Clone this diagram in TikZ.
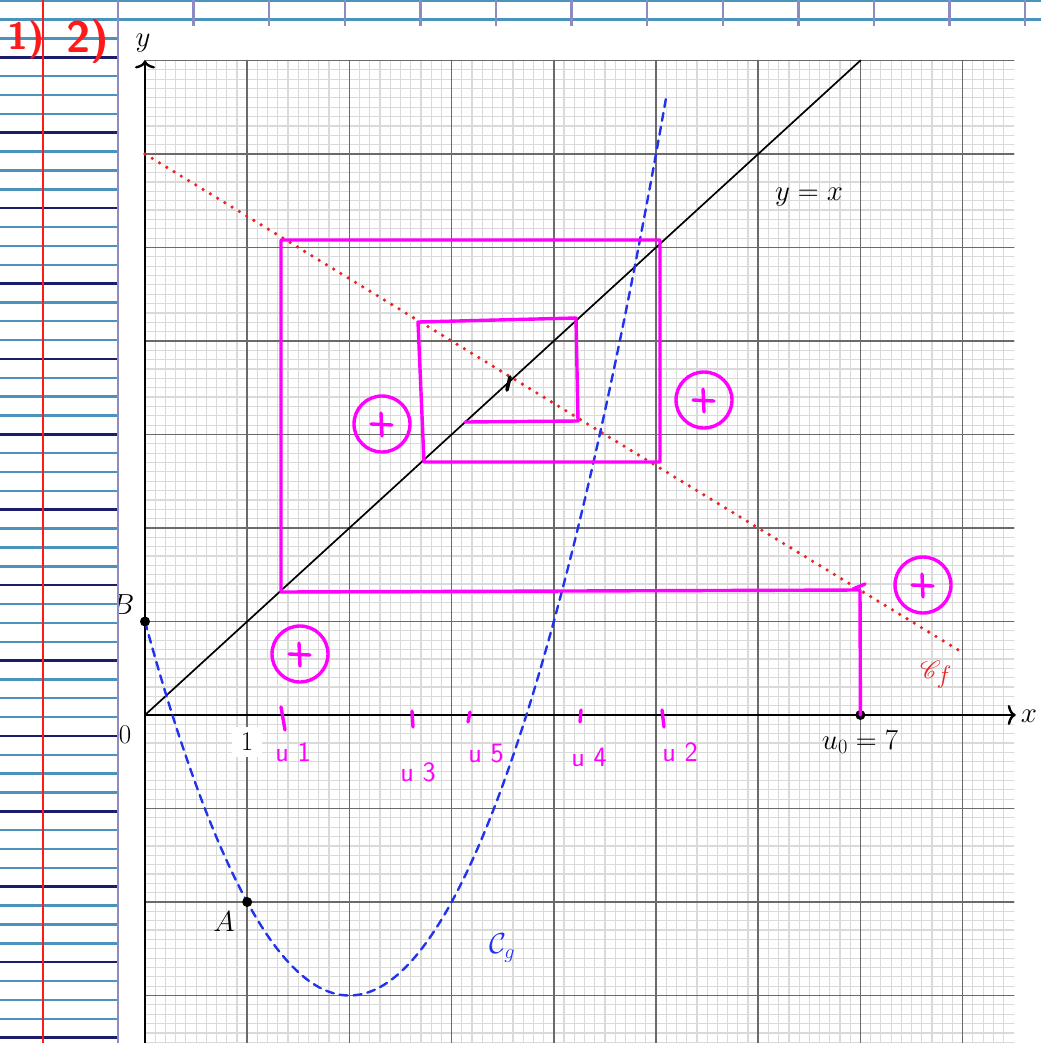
\RequirePackage{fix-cm}
\documentclass[tikz,border=0pt]{standalone}
\usepackage{mathrsfs}
\usetikzlibrary{arrows.meta}
\definecolor{nbBlue}{HTML}{4A93BD}
\definecolor{nbNavy}{HTML}{1C1C6C}
\definecolor{nbLilac}{HTML}{8E8BC2}
\definecolor{nbRed}{HTML}{FF1A1A}
\definecolor{penPink}{HTML}{FF00FF}
\definecolor{gridMinor}{HTML}{DADADA}
\definecolor{gridMajor}{HTML}{6A6A6A}
\definecolor{curveBlue}{HTML}{2233EE}
\definecolor{lineRed}{HTML}{EE2222}
\begin{document}
\begin{tikzpicture}[x=1pt,y=-1pt,line cap=round,line join=round]
\useasboundingbox (0,0) rectangle (1041,1043);
\clip (0,0) rectangle (1041,1043);
\path[fill=white] (0,0) rectangle (1041,1043);
\tikzset{ruleLight/.style={draw=nbBlue,line width=2.4pt,line cap=butt},ruleDark/.style={draw=nbNavy,line width=2.6pt,line cap=butt},marginRule/.style={draw=nbLilac,line width=2.4pt,line cap=butt},pen/.style={draw=penPink,line width=3.4pt},gridFine/.style={draw=gridMinor,line width=1.2pt},gridBold/.style={draw=gridMajor,line width=1.6pt},axis/.style={draw=black,line width=2.4pt},dot/.style={circle,fill=black,inner sep=0pt,minimum size=10pt},lbl/.style={font=\fontsize{27}{30}\selectfont},lblMath/.style={font=\fontsize{29}{32}\selectfont},penText/.style={text=penPink,font=\sffamily\fontsize{28}{30}\selectfont}}
% notebook sheet
\foreach \k in {0,...,55} \draw[ruleLight] (0,{0.8+18.85*\k}) -- (1041,{0.8+18.85*\k});
\foreach \k in {3,7,...,55} \draw[ruleDark] (0,{0.8+18.85*\k}) -- (1041,{0.8+18.85*\k});
\foreach \k in {1,...,12} \draw[marginRule] ({118+75.6*\k},0) -- ({118+75.6*\k},26);
% pasted graph
\begin{scope}
\clip (119,26) rectangle (1041,1043);
\path[fill=white] (119,26) rectangle (1041,1043);
\begin{scope}[shift={(145,715)},x=102.2pt,y=93.5pt]
\draw[gridFine,step=0.1] (0,-3.7) grid (8.5,7);
\draw[gridBold,step=1] (0,-3.7) grid (8.5,7);
\draw[axis,-{To[length=8pt,width=20pt]}] (0,0) -- (8.52,0);
\draw[axis,-{To[length=8pt,width=20pt]}] (0,-3.7) -- (0,7);
\draw[line width=1.7pt] (0,0) -- (7,7);
\draw[lineRed,line width=3.6pt,dash pattern=on 0pt off 8.5pt] (0,6) -- (8,{6-2/3*8});
\draw[curveBlue,line width=2.4pt,dash pattern=on 8pt off 6pt,domain=0:5.1,samples=100,smooth] plot (\x,{(\x-2)*(\x-2)-3});
\node[dot] (B) at (0,1) {};
\node[dot] (A) at (1,-2) {};
\node[dot] (U0) at (7,0) {};
\end{scope}
\node[lblMath] (labY) at (143,43) {$y$};
\node[lblMath] (labX) at (1029,716) {$x$};
\node[lbl] (labO) at (125,735) {0};
\node[lbl,fill=white,minimum size=30pt,inner sep=0pt] (labOne) at (247,742) {1};
\node[lblMath] (labB) at (123,605) {$B$};
\node[lblMath] (labA) at (224,922) {$A$};
\node[lblMath] (labU) at (860,742) {$u_0=7$};
\node[lblMath] (labYX) at (809,197) {$y=x$};
\node[text=lineRed,font=\fontsize{36}{40}\selectfont] (labCf) at (936,675) {$\mathscr{C}_f$};
\node[lblMath,text=curveBlue] (labCg) at (502,948) {$\mathcal{C}_g$};
\end{scope}
\draw[marginRule] (118,0) -- (118,1043);
\draw[draw=nbRed,line width=2.6pt,line cap=butt] (43,0) -- (43,1043);
\node[text=nbRed,font=\sffamily\bfseries\fontsize{38}{40}\selectfont] (partOne) at (26,40) {1)};
\node[text=nbRed,font=\sffamily\bfseries\fontsize{44}{46}\selectfont] (partTwo) at (88,42) {2)};
% cobweb by hand
\draw[pen] (U0.center) -- (860,590) -- (281,592) -- (281,240) -- (660,240) -- (660,462) -- (424,462) -- (418,322) -- (576,318) -- (578,421) -- (465,422);
\draw[pen] (853,589) -- (865,584);
\draw[line width=3.6pt] (510,377) -- (507,390);
\draw[pen] (281,707) -- (285,730);
\draw[pen] (412,711) -- (413,727);
\draw[pen] (470,712) -- (468,722);
\draw[pen] (581,710) -- (580,722);
\draw[pen] (662,710) -- (664,727);
\node[penText] (tagOne) at (293,752) {u 1};
\node[penText] (tagThree) at (418,772) {u 3};
\node[penText] (tagFive) at (486,754) {u 5};
\node[penText] (tagFour) at (589,757) {u 4};
\node[penText] (tagTwo) at (680,752) {u 2};
\foreach \cx/\cy in {382/424,704/400,923/585,300/654} {
  \draw[pen] (\cx,\cy) circle[radius=28];
  \draw[pen] ({\cx-11},\cy) -- ({\cx+10},{\cy+1});
  \draw[pen] ({\cx-1},{\cy-11}) -- (\cx,{\cy+12});
}
\end{tikzpicture}
\end{document}
